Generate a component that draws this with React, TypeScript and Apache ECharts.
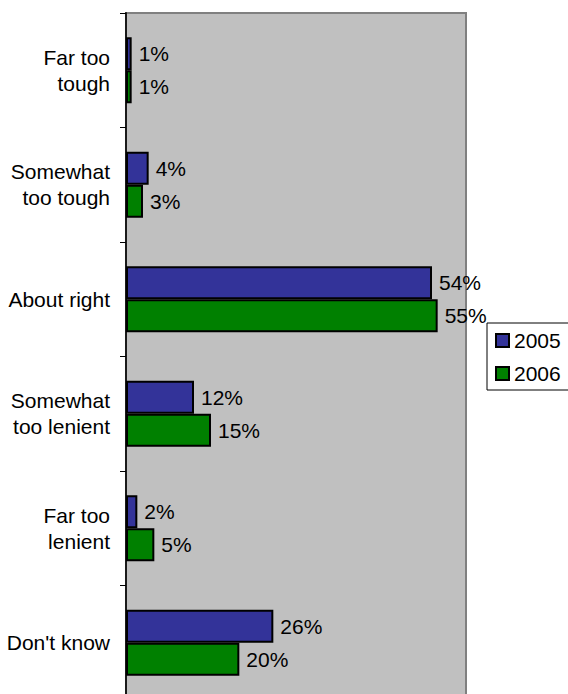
import React, { useEffect, useRef } from "react";
import * as echarts from "echarts";

const categories = [
  "Far too\ntough",
  "Somewhat\ntoo tough",
  "About right",
  "Somewhat\ntoo lenient",
  "Far too\nlenient",
  "Don't know",
];
const seriesNames = ["2005", "2006"];
const values2005 = [1, 4, 54, 12, 2, 26];
const values2006 = [1, 3, 55, 15, 5, 20];
const colors = ["#333399", "#008000"];

const FONT = "'Liberation Sans', Arial, sans-serif";

export default function App() {
  const ref = useRef<HTMLDivElement>(null);
  useEffect(() => {
    document.body.style.margin = "0";
    if (!ref.current) return;
    const chart = echarts.init(ref.current, undefined, { renderer: "svg" });
    const label = {
      show: true,
      position: "right",
      distance: 7,
      formatter: "{c}%",
      color: "#000",
      fontSize: 21,
      fontFamily: FONT,
    };
    chart.setOption({
      animation: false,
      grid: {
        left: 126,
        top: 13,
        width: 340,
        height: 687,
        outerBoundsMode: "none",
        containLabel: false,
        show: true,
        backgroundColor: "#c0c0c0",
        borderColor: "#808080",
        borderWidth: 2,
      },
      legend: {
        orient: "vertical",
        left: 487,
        top: 323,
        padding: [7, 8, 6, 8],
        itemWidth: 13,
        itemHeight: 13,
        itemGap: 12,
        itemTextGap: 6,
        backgroundColor: "#fff",
        borderColor: "#000",
        borderWidth: 1,
        icon: "rect",
        textStyle: { color: "#000", fontSize: 21, fontFamily: FONT },
        data: seriesNames,
      },
      xAxis: {
        type: "value",
        min: 0,
        max: 60,
        show: false,
        splitLine: { show: false },
      },
      yAxis: {
        type: "category",
        data: categories,
        inverse: true,
        axisLine: { show: true, lineStyle: { color: "#1a1a1a", width: 2 } },
        axisTick: { show: true, length: 6, lineStyle: { color: "#000" } },
        axisLabel: {
          color: "#000",
          fontSize: 21,
          fontFamily: FONT,
          margin: 16,
          lineHeight: 26,
          align: "right",
        },
        splitLine: { show: false },
      },
      series: [
        {
          name: seriesNames[0],
          type: "bar",
          data: values2005,
          barWidth: 33,
          barGap: "0%",
          itemStyle: { color: colors[0], borderColor: "#000", borderWidth: 2 },
          label,
        },
        {
          name: seriesNames[1],
          type: "bar",
          data: values2006,
          barWidth: 33,
          barGap: "0%",
          itemStyle: { color: colors[1], borderColor: "#000", borderWidth: 2 },
          label,
        },
      ],
    });
    return () => chart.dispose();
  }, []);
  return <div ref={ref} style={{ width: 568, height: 694 }} />;
}
